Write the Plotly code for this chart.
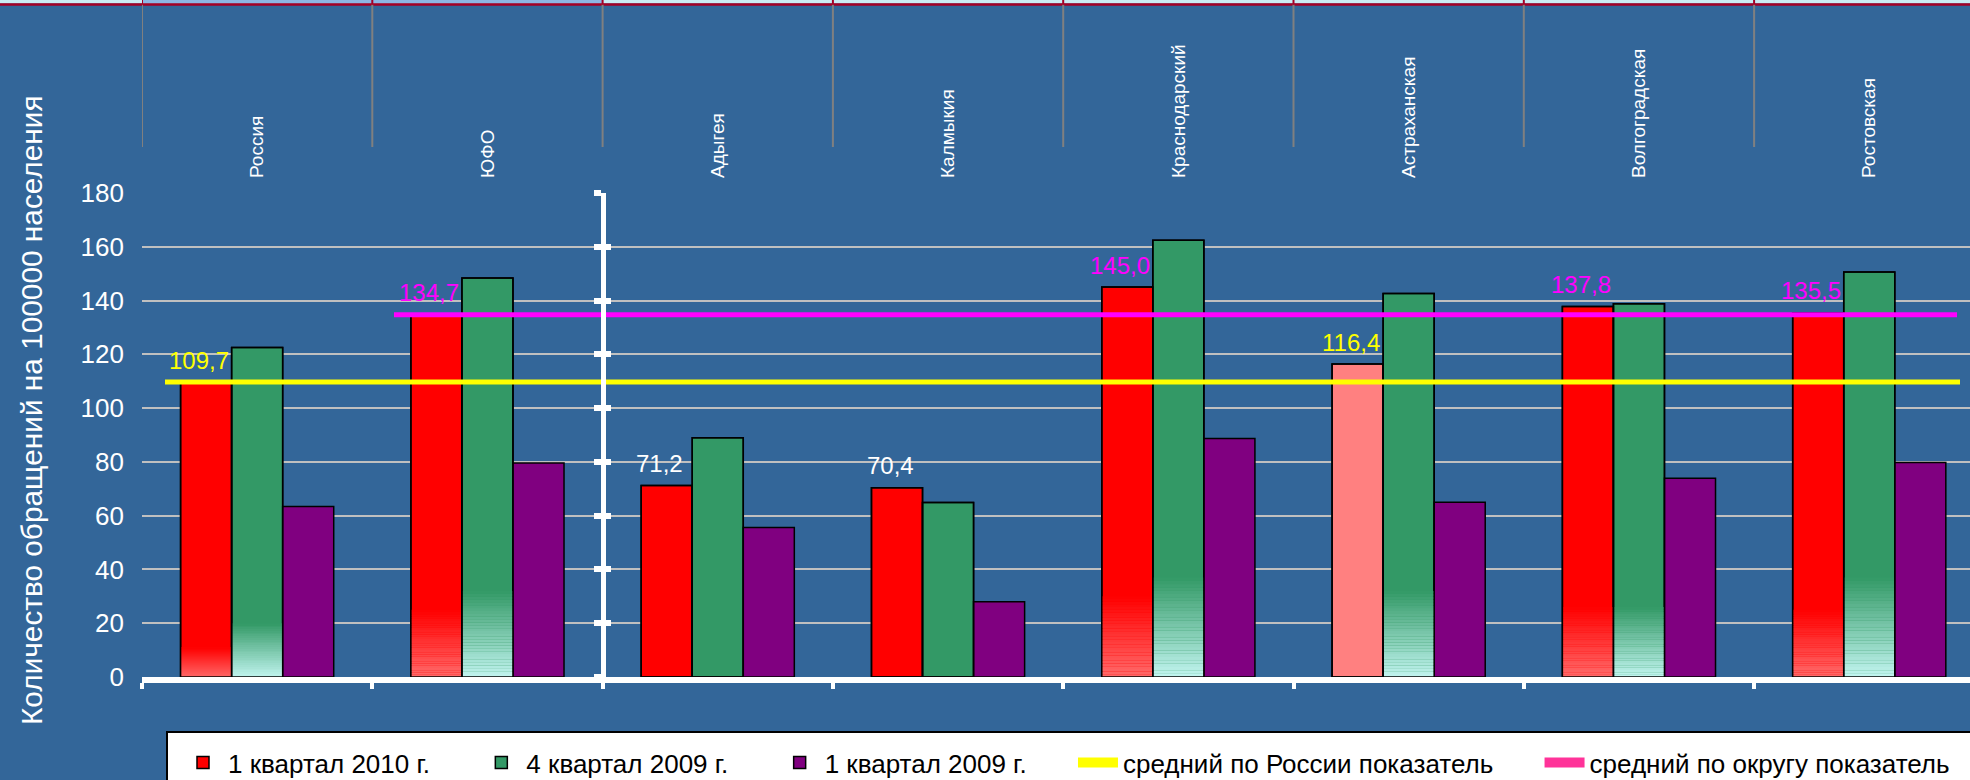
import plotly.graph_objects as go

# ---------------- data ----------------
categories = ["Россия", "ЮФО", "Адыгея", "Калмыкия", "Краснодарский",
              "Астраханская", "Волгоградская", "Ростовская"]
q1_2010 = [109.7, 134.7, 71.2, 70.4, 145.0, 116.4, 137.8, 135.5]
q4_2009 = [122.5, 148.4, 89.0, 64.9, 162.4, 142.6, 138.8, 150.6]
q1_2009 = [63.4, 79.6, 55.6, 28.0, 88.7, 65.0, 73.9, 79.8]
russia_avg = 109.7
district_avg = 134.7
series_names = ["1 квартал 2010 г.", "4 квартал 2009 г.", "1 квартал 2009 г.",
                "средний по России показатель", "средний по округу показатель"]
y_title = "Количество обращений на 100000 населения"

# ---------------- styles ----------------
BG = "#336699"
FONT = "Liberation Sans, Arial, sans-serif"
red_colors = ["#FF0000", "#FF0000", "#FF0000", "#FF0000", "#FF0000", "#FF8080", "#FF0000", "#FF0000"]
green_color = "#339966"
purple_color = "#800080"
yellow = "#FFFF00"
magenta = "#FF00FF"
label_colors = [yellow, magenta, "#FFFFFF", "#FFFFFF", magenta, yellow, magenta, magenta]
# light "fade" at the bottom of some bars (style only)
red_fade = [11, 25, 0, 0, 30, 0, 26, 25]
green_fade = [20, 32, 0, 0, 37, 32, 26, 37]
red_fade_bottom = (255, 106, 106)
green_fade_bottom = (194, 245, 240)
N_SEG = 30
LEG_PAD = "\u00a0" * 5 + "\u2009"

W, H = 1970, 780
L, T, B, R = 142, 193, 103, 0
plot_w = W - L - R
plot_h = H - T - B
cat_px = 230.3
x_range = [-0.5, -0.5 + plot_w / cat_px]


def px_to_paper_y(p):
    return (H - B - p) / plot_h


def px_to_paper_x(p):
    return (p - L) / plot_w


def line_axis_range(px_first, idx_first, px_last, idx_last):
    s = (px_last - px_first) / (idx_last - idx_first)
    r0 = idx_first - (px_first - L) / s
    return [r0, r0 + plot_w / s]


def hex_rgb(h):
    h = h.lstrip("#")
    return tuple(int(h[i:i + 2], 16) for i in (0, 2, 4))


fig = go.Figure()

# main bars
fig.add_trace(go.Bar(name=series_names[0] + LEG_PAD, x=categories, y=q1_2010, offsetgroup="a",
                     marker=dict(color=red_colors, line=dict(color="black", width=1.5)),
                     hoverinfo="skip"))
fig.add_trace(go.Bar(name=series_names[1] + LEG_PAD, x=categories, y=q4_2009, offsetgroup="b",
                     marker=dict(color=green_color, line=dict(color="black", width=1.5)),
                     hoverinfo="skip"))
fig.add_trace(go.Bar(name=series_names[2] + LEG_PAD, x=categories, y=q1_2009, offsetgroup="c",
                     marker=dict(color=purple_color, line=dict(color="black", width=1.5)),
                     hoverinfo="skip"))


# bottom fades (decorative overlays in the same offset groups)
def add_fade(group, fade, top_rgb, bottom_rgb):
    for k in range(N_SEG):
        t = (k + 0.5) / N_SEG
        c = tuple(round(bottom_rgb[j] + (top_rgb[j] - bottom_rgb[j]) * t) for j in range(3))
        fig.add_trace(go.Bar(x=categories, y=[f / N_SEG * 1.02 for f in fade],
                             base=[f * k / N_SEG for f in fade], offsetgroup=group,
                             marker=dict(color="rgb(%d,%d,%d)" % c, line=dict(width=0)),
                             showlegend=False, hoverinfo="skip"))


add_fade("a", red_fade, hex_rgb("#FF0000"), red_fade_bottom)
add_fade("b", green_fade, hex_rgb(green_color), green_fade_bottom)

# redraw outlines on top
for grp, vals in (("a", q1_2010), ("b", q4_2009)):
    fig.add_trace(go.Bar(x=categories, y=vals, offsetgroup=grp,
                         marker=dict(color="rgba(0,0,0,0)", line=dict(color="black", width=1.5)),
                         showlegend=False, hoverinfo="skip"))

# average lines
fig.add_trace(go.Scatter(x=categories, y=[russia_avg] * len(categories),
                         xaxis="x3", mode="lines", line=dict(color=yellow, width=5),
                         showlegend=False, hoverinfo="skip"))
fig.add_trace(go.Scatter(x=categories,
                         y=[None] + [district_avg] * (len(categories) - 1),
                         xaxis="x4", mode="lines", line=dict(color=magenta, width=5),
                         showlegend=False, hoverinfo="skip"))
# legend entries for the average lines (thicker legend swatch)
fig.add_trace(go.Scatter(name=series_names[3] + LEG_PAD, x=[None], y=[None], mode="lines",
                         line=dict(color=yellow, width=10), hoverinfo="skip"))
fig.add_trace(go.Scatter(name=series_names[4], x=[None], y=[None], mode="lines",
                         line=dict(color="#FF3399", width=10), hoverinfo="skip"))

# invisible helpers so that auxiliary axes are drawn
for xa, ya in (("x2", "y"), ("x", "y2"), ("x", "y3")):
    fig.add_trace(go.Scatter(x=categories, y=q1_2010, xaxis=xa, yaxis=ya, mode="markers",
                             marker=dict(opacity=0), showlegend=False, hoverinfo="skip"))

# value labels
for cat, v, col in zip(categories, q1_2010, label_colors):
    fig.add_annotation(x=cat, y=v, xref="x", yref="y", text=f"{v:.1f}".replace(".", ","),
                       showarrow=False, xshift=-58, yshift=22, xanchor="center",
                       font=dict(family=FONT, size=24, color=col))

# y title
fig.add_annotation(xref="paper", yref="paper", x=px_to_paper_x(31), y=px_to_paper_y(410),
                   xanchor="center", yanchor="middle",
                   text=y_title, textangle=-90, showarrow=False,
                   font=dict(family=FONT, size=29.8, color="white"))

# header decoration (table remnants at top) and legend frame
shapes = []
y_strip_top = px_to_paper_y(-2)
y_strip_bot = px_to_paper_y(3.4)
y_red = px_to_paper_y(4.6)
shapes.append(dict(type="rect", xref="paper", yref="paper", x0=-0.1, x1=1.05,
                   y0=y_strip_bot, y1=y_strip_top, fillcolor="#CCEBF3", line=dict(width=0)))
shapes.append(dict(type="rect", xref="x", yref="paper", x0=-0.5, x1=1.5,
                   y0=y_strip_bot, y1=y_strip_top, fillcolor="#8DB6E4", line=dict(width=0)))
shapes.append(dict(type="line", xref="paper", yref="paper", x0=-0.1, x1=1.05,
                   y0=y_red, y1=y_red, line=dict(color="#A50026", width=2.5)))
for b in range(len(categories) + 1):
    shapes.append(dict(type="line", xref="x", yref="paper", x0=b - 0.5, x1=b - 0.5,
                       y0=px_to_paper_y(147), y1=y_red, line=dict(color="#808080", width=2)))
    shapes.append(dict(type="line", xref="x", yref="paper", x0=b - 0.5, x1=b - 0.5,
                       y0=y_red, y1=y_strip_top, line=dict(color="#A50026", width=2)))
shapes.append(dict(type="rect", xref="paper", yref="paper", layer="above",
                   x0=px_to_paper_x(167), x1=px_to_paper_x(W + 20),
                   y0=px_to_paper_y(800), y1=px_to_paper_y(732),
                   fillcolor="white", line=dict(color="black", width=2)))

y_axis_pos = (1.5 - x_range[0]) / (x_range[1] - x_range[0])

fig.update_layout(
    width=W, height=H,
    margin=dict(l=L, r=R, t=T, b=B, pad=0),
    paper_bgcolor=BG, plot_bgcolor=BG,
    font=dict(family=FONT, color="white"),
    barmode="group", bargap=0.335, bargroupgap=0,
    showlegend=True,
    legend=dict(orientation="h", xref="container", yref="container",
                x=178 / W, y=1 - 739 / H, xanchor="left", yanchor="top",
                bgcolor="rgba(0,0,0,0)", borderwidth=0, itemwidth=40,
                font=dict(family=FONT, size=26, color="black"),
                traceorder="normal"),
    shapes=shapes,
    xaxis=dict(type="category", categoryorder="array", categoryarray=categories,
               range=x_range, showgrid=False, showticklabels=False,
               showline=True, linecolor="white", linewidth=6,
               ticks="outside", tickson="boundaries", ticklen=6, tickwidth=4, tickcolor="white",
               zeroline=False),
    xaxis2=dict(type="category", categoryorder="array", categoryarray=categories,
                overlaying="x", side="top", range=x_range, showgrid=False, showline=False,
                ticks="", tickangle=-90, ticklabelstandoff=14,
                tickfont=dict(family=FONT, size=19, color="white")),
    xaxis3=dict(type="category", categoryorder="array", categoryarray=categories,
                overlaying="x", range=line_axis_range(165, 0, 1960, 7), visible=False),
    xaxis4=dict(type="category", categoryorder="array", categoryarray=categories,
                overlaying="x", range=line_axis_range(394, 1, 1957, 7), visible=False),
    yaxis=dict(range=[0, 180], dtick=20, showgrid=True, gridcolor="#C0C0C0", gridwidth=2,
               zeroline=False, showline=False, ticks="", ticklabelstandoff=17,
               tickfont=dict(family=FONT, size=26, color="white")),
    yaxis2=dict(range=[0, 180], dtick=20, overlaying="y", anchor="free", position=y_axis_pos,
                showgrid=False, zeroline=False, showticklabels=False,
                showline=True, linecolor="white", linewidth=5,
                ticks="outside", ticklen=7, tickwidth=6, tickcolor="white"),
    yaxis3=dict(range=[0, 180], dtick=20, overlaying="y", anchor="free", position=y_axis_pos,
                showgrid=False, zeroline=False, showticklabels=False, showline=False,
                ticks="inside", ticklen=7, tickwidth=6, tickcolor="white"),
)

fig.write_html("out.html", config={"displayModeBar": False},
               post_script="document.body.style.margin='0px';")
